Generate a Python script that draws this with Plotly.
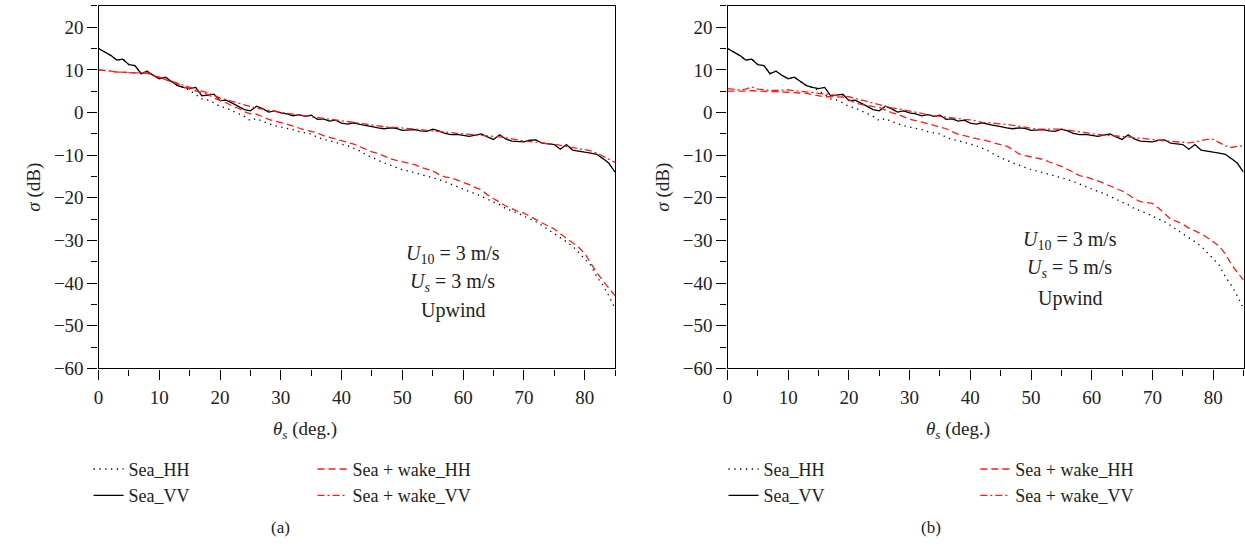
import plotly.graph_objects as go

theta = list(range(0, 86))

sea_vv = [15.0, 14.2, 13.4, 12.3, 12.5, 11.2, 11.0, 9.1, 9.7, 8.7,
          7.9, 8.3, 7.3, 6.3, 5.9, 5.6, 5.9, 3.9, 4.1, 4.3,
          2.8, 2.9, 2.2, 1.4, 0.7, 0.4, 1.5, 0.9, 0.1, 0.4,
          -0.1, -0.3, -0.8, -0.5, -0.9, -0.6, -1.6, -1.5, -2.0, -1.8,
          -2.5, -2.7, -2.4, -2.8, -3.0, -3.3, -3.6, -3.8, -3.6, -3.7,
          -4.2, -4.1, -4.0, -4.3, -4.4, -3.9, -4.3, -4.9, -5.2, -5.1,
          -5.3, -5.6, -5.3, -5.0, -5.7, -6.3, -5.2, -6.2, -6.7, -6.8,
          -6.9, -6.5, -6.4, -7.2, -7.4, -7.5, -8.6, -7.5, -8.8, -9.1,
          -9.3, -9.5, -9.8, -10.8, -11.9, -14.0]

sea_hh = [15.0, 14.2, 13.4, 12.3, 12.5, 11.2, 11.0, 9.1, 9.7, 8.7,
          7.9, 8.3, 7.3, 6.3, 5.9, 5.2, 4.2, 3.2, 2.9, 2.3,
          1.4, 1.1, 0.4, -0.3, -0.9, -1.9, -1.4, -2.1, -2.6, -3.1,
          -3.4, -3.7, -4.0, -4.5, -4.8, -5.0, -5.8, -6.3, -6.6, -7.0,
          -7.4, -7.8, -8.4, -9.0, -9.9, -10.6, -11.2, -11.8, -12.3, -12.8,
          -13.4, -13.7, -14.1, -14.5, -14.8, -15.3, -15.7, -16.2, -16.8, -17.4,
          -18.0, -18.5, -19.0, -19.6, -20.3, -21.0, -21.6, -22.5, -23.0, -23.6,
          -24.3, -25.0, -25.6, -26.5, -27.4, -28.3, -29.2, -30.3, -31.3, -32.8,
          -34.3, -35.8, -38.5, -40.5, -43.0, -46.0]

wake_hh_a = [10.0, 9.9, 9.7, 9.5, 9.4, 9.3, 9.3, 9.3, 9.2, 8.7,
             8.2, 7.8, 7.3, 6.7, 6.0, 5.6, 5.1, 4.6, 4.2, 3.4,
             2.8, 2.3, 1.5, 1.0, 0.2, -0.3, -0.4, -1.0, -1.6, -2.0,
             -2.3, -2.7, -3.2, -3.7, -4.1, -4.4, -4.8, -5.4, -5.8, -6.2,
             -6.6, -7.0, -7.4, -8.0, -8.6, -9.2, -9.6, -10.2, -10.8, -11.2,
             -11.5, -11.8, -12.2, -12.8, -13.2, -13.7, -14.5, -15.1, -15.3, -15.8,
             -16.3, -16.9, -17.6, -18.1, -19.3, -20.2, -21.2, -21.9, -22.5, -23.2,
             -23.6, -24.3, -25.1, -25.9, -26.6, -27.3, -28.4, -29.4, -30.4, -31.6,
             -33.0, -35.2, -37.6, -39.4, -41.2, -43.0]

wake_vv_a = [10.0, 9.9, 9.7, 9.5, 9.4, 9.3, 9.3, 9.3, 9.3, 8.8,
             8.3, 7.9, 7.4, 6.9, 6.3, 5.9, 5.4, 5.0, 4.6, 4.0,
             3.4, 3.0, 2.6, 2.1, 1.7, 1.4, 1.0, 0.8, 0.5, 0.2,
             0.0, -0.2, -0.4, -0.6, -0.8, -1.0, -1.2, -1.4, -1.6, -1.8,
             -2.0, -2.1, -2.3, -2.5, -2.7, -2.9, -3.1, -3.3, -3.4, -3.5,
             -3.7, -3.8, -3.9, -4.0, -4.2, -4.3, -4.4, -4.6, -4.7, -4.9,
             -5.0, -5.1, -5.2, -5.3, -5.4, -5.5, -5.7, -5.9, -6.2, -6.5,
             -6.7, -6.8, -6.9, -7.1, -7.3, -7.4, -7.7, -8.0, -8.2, -8.5,
             -8.7, -9.0, -9.5, -10.2, -10.9, -11.7]

wake_hh_b = [5.0, 5.0, 4.9, 5.0, 5.1, 5.0, 4.9, 4.9, 4.9, 4.8,
             4.8, 4.7, 4.6, 4.5, 4.2, 4.0, 3.7, 3.7, 3.7, 3.6,
             3.0, 2.2, 1.9, 1.6, 1.4, 1.2, 0.6, 0.0, -0.4, -1.0,
             -1.6, -1.9, -2.2, -2.6, -3.0, -3.4, -3.8, -4.5, -5.1, -5.4,
             -5.8, -6.1, -6.4, -6.8, -7.1, -7.5, -7.9, -8.7, -9.7, -10.1,
             -10.4, -10.6, -11.0, -11.6, -12.1, -12.6, -13.3, -14.1, -14.8, -15.1,
             -15.5, -16.0, -16.6, -17.2, -17.7, -18.4, -19.2, -20.2, -20.9, -21.1,
             -21.3, -22.4, -23.8, -25.0, -25.5, -26.2, -27.1, -27.7, -28.4, -29.3,
             -30.2, -31.3, -33.1, -35.6, -37.5, -39.3]

wake_vv_b = [5.6, 5.4, 5.3, 5.5, 6.0, 5.5, 5.3, 5.2, 5.2, 5.3,
             5.3, 5.1, 5.0, 4.9, 4.7, 4.5, 4.3, 4.1, 4.0, 3.9,
             3.7, 3.3, 3.0, 2.6, 2.2, 1.8, 1.4, 1.1, 0.9, 0.6,
             0.3, 0.0, -0.3, -0.5, -0.7, -0.9, -1.1, -1.3, -1.5, -1.6,
             -1.7, -2.0, -2.3, -2.4, -2.5, -2.6, -2.8, -3.0, -3.2, -3.5,
             -3.7, -3.9, -3.9, -3.9, -3.9, -3.9, -4.1, -4.3, -4.4, -4.7,
             -5.0, -5.2, -5.3, -5.4, -5.5, -5.5, -5.7, -5.9, -6.0, -6.2,
             -6.3, -6.5, -6.6, -6.8, -6.9, -7.0, -7.1, -6.9, -6.6, -6.3,
             -6.3, -7.0, -7.8, -8.2, -7.9, -7.8]

y_ticks = [-60, -50, -40, -30, -20, -10, 0, 10, 20]
x_ticks = [0, 10, 20, 30, 40, 50, 60, 70, 80]

FONT = "Liberation Serif"
RED = "#ff1a1a"
TXT = "#222"
W = 1245
H = 550

fig = go.Figure()

panels = [
    ("x", "y", wake_hh_a, wake_vv_a, ("legend", "legend2")),
    ("x2", "y2", wake_hh_b, wake_vv_b, ("legend3", "legend4")),
]
for xa, ya, whh, wvv, (lg1, lg2) in panels:
    fig.add_trace(go.Scatter(x=theta, y=sea_hh, xaxis=xa, yaxis=ya, mode="lines",
                             name="Sea_HH", legend=lg1,
                             line=dict(color="black", width=1.3, dash="1.3px,4.5px")))
    fig.add_trace(go.Scatter(x=theta, y=sea_vv, xaxis=xa, yaxis=ya, mode="lines",
                             name="Sea_VV", legend=lg1,
                             line=dict(color="black", width=1.3)))
    fig.add_trace(go.Scatter(x=theta, y=whh, xaxis=xa, yaxis=ya, mode="lines",
                             name="Sea + wake_HH", legend=lg2,
                             line=dict(color=RED, width=1.3, dash="7px,4px")))
    fig.add_trace(go.Scatter(x=theta, y=wvv, xaxis=xa, yaxis=ya, mode="lines",
                             name="Sea + wake_VV", legend=lg2,
                             line=dict(color=RED, width=1.3, dash="7px,3px,2px,3px")))

y_top = 1 - 6 / H
y_bot = 1 - 376 / H
dom_a = [94 / W, 613 / W]
dom_b = [726 / W, 1244.5 / W]

axis_common = dict(
    showline=True, linecolor="black", linewidth=1.3, mirror=True,
    showgrid=False, zeroline=False, ticks="outside", ticklen=10, tickwidth=1.3,
    tickcolor="black", tickfont=dict(family=FONT, size=19, color=TXT),
)

xcommon = dict(axis_common, range=[0, 85], tickmode="array", tickvals=x_ticks,
               ticklabelstandoff=2,
               minor=dict(dtick=5, tick0=0, ticks="outside", ticklen=6, tickwidth=1.3, tickcolor="black"))
ycommon = dict(axis_common, range=[-60, 25], tickmode="array", tickvals=y_ticks,
               minor=dict(dtick=5, tick0=0, ticks="outside", ticklen=6, tickwidth=1.3, tickcolor="black"))

ytitle = dict(text="<i>σ</i> (dB)", font=dict(family=FONT, size=19, color=TXT), standoff=8)

fig.update_layout(
    xaxis=dict(xcommon, domain=dom_a, anchor="y"),
    yaxis=dict(ycommon, domain=[y_bot, y_top], anchor="x", title=ytitle),
    xaxis2=dict(xcommon, domain=dom_b, anchor="y2"),
    yaxis2=dict(ycommon, domain=[y_bot, y_top], anchor="x2", title=ytitle),
    width=W, height=H,
    margin=dict(l=0, r=0, t=0, b=0),
    paper_bgcolor="white", plot_bgcolor="white",
    font=dict(family=FONT, color=TXT),
)

leg_font = dict(family=FONT, size=18, color=TXT)
leg_pos = {"legend": 84, "legend2": 309, "legend3": 722, "legend4": 975}
for name, px in leg_pos.items():
    fig.update_layout({name: dict(x=px / W, y=1 - 460 / H, xanchor="left", yanchor="top",
                                  font=leg_font, bgcolor="rgba(0,0,0,0)",
                                  tracegroupgap=0, itemwidth=30)})

annots = []
for cx in (301, 958):
    annots.append(dict(x=cx / W, y=1 - 439 / H, xref="paper", yref="paper",
                       xanchor="center", yanchor="middle",
                       text="<i>θ</i><sub><i>s</i></sub> (deg.)", showarrow=False,
                       font=dict(family=FONT, size=19, color=TXT)))
for cx, lab in ((277, "(a)"), (930, "(b)")):
    annots.append(dict(x=cx / W, y=1 - 538 / H, xref="paper", yref="paper",
                       xanchor="center", yanchor="middle",
                       text=lab, showarrow=False,
                       font=dict(family=FONT, size=17, color=TXT)))

info = [
    (450, [260, 288, 317], "3"),
    (1070, [245, 274, 305], "5"),
]
for cx, ys, us in info:
    texts = ["<i>U</i><sub>10</sub> = 3 m/s", "<i>U</i><sub><i>s</i></sub> = " + us + " m/s", "Upwind"]
    for t, py in zip(texts, ys):
        annots.append(dict(x=cx / W, y=1 - py / H, xref="paper", yref="paper",
                           xanchor="center", yanchor="middle",
                           text=t, showarrow=False,
                           font=dict(family=FONT, size=20, color=TXT)))

fig.update_layout(annotations=annots)

fig.write_html("out.html")
